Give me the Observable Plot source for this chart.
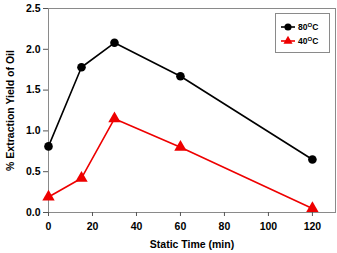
<!DOCTYPE html>
<html>
<head>
<meta charset="utf-8">
<script src="https://cdn.jsdelivr.net/npm/d3@7"></script>
<script src="https://cdn.jsdelivr.net/npm/@observablehq/plot@0.6"></script>
<style>
  html, body { margin: 0; padding: 0; background: #fff; }
  #chart { position: relative; width: 337px; height: 253px; }
</style>
</head>
<body>
<div id="chart"></div>
<script>
// Static extraction time (min)
const times = [0, 15, 30, 60, 120];
// Oil yield (%) at each temperature
const yield80 = [0.81, 1.78, 2.08, 1.67, 0.65];
const yield40 = [0.19, 0.42, 1.15, 0.80, 0.05];
const seriesNames = ["80", "40"];
const seriesColors = ["#000000", "#ee0000"];
const xTicks = [0, 20, 40, 60, 80, 100, 120];
const yTicks = [0.0, 0.5, 1.0, 1.5, 2.0, 2.5];

const rows80 = times.map((t, i) => ({t, v: yield80[i]}));
const rows40 = times.map((t, i) => ({t, v: yield40[i]}));

const font = "'Liberation Sans', Arial, sans-serif";

const plot = Plot.plot({
  width: 337,
  height: 253,
  marginLeft: 48,
  marginRight: 2,
  marginTop: 8,
  marginBottom: 41,
  style: {fontFamily: font, fontSize: "10.5px", fontWeight: "bold", color: "#000", background: "#fff"},
  x: {domain: [0, 130.5]},
  y: {domain: [0, 2.5]},
  marks: [
    Plot.frame({stroke: "#8a8a8a", strokeWidth: 1}),
    Plot.axisX({ticks: xTicks, tickSize: 4, tickPadding: 6, stroke: "#555",
      label: "Static Time (min)", labelAnchor: "center", labelArrow: "none", labelOffset: 35}),
    Plot.axisY({ticks: yTicks, tickSize: 5, tickPadding: 3, stroke: "#555", tickFormat: d3.format(".1f"),
      label: "% Extraction Yield of Oil", labelAnchor: "center", labelArrow: "none", labelOffset: 42}),
    Plot.line(rows80, {x: "t", y: "v", stroke: seriesColors[0], strokeWidth: 1.6}),
    Plot.line(rows40, {x: "t", y: "v", stroke: seriesColors[1], strokeWidth: 1.6}),
    Plot.dot(rows80, {x: "t", y: "v", fill: seriesColors[0], r: 4.3, symbol: "circle"}),
    Plot.dot(rows40, {x: "t", y: "v", fill: seriesColors[1], r: 4.6, symbol: "triangle"})
  ]
});

// Legend box in the upper right of the frame
const svg = d3.select(plot);
const lg = svg.append("g").attr("font-family", font).attr("font-weight", "bold");
lg.append("rect").attr("x", 275.5).attr("y", 13.5).attr("width", 54).attr("height", 39)
  .attr("fill", "#fff").attr("stroke", "#8a8a8a");
const symbols = [d3.symbolCircle, d3.symbolTriangle];
seriesNames.forEach((name, i) => {
  const y = 27 + i * 14;
  lg.append("line").attr("x1", 281).attr("x2", 295).attr("y1", y).attr("y2", y)
    .attr("stroke", seriesColors[i]).attr("stroke-width", 1.6);
  lg.append("path").attr("transform", `translate(288,${y})`)
    .attr("d", d3.symbol(symbols[i], i === 0 ? 40 : 36)()).attr("fill", seriesColors[i]);
  const t = lg.append("text").attr("x", 298).attr("y", y + 3).attr("font-size", "8.5px")
    .attr("text-anchor", "start").attr("fill", "#000");
  t.append("tspan").text(name);
  t.append("tspan").attr("font-size", "6px").attr("dy", -3.5).text("O");
  t.append("tspan").attr("dy", 3.5).text("C");
});

document.getElementById("chart").appendChild(plot);
</script>
</body>
</html>
